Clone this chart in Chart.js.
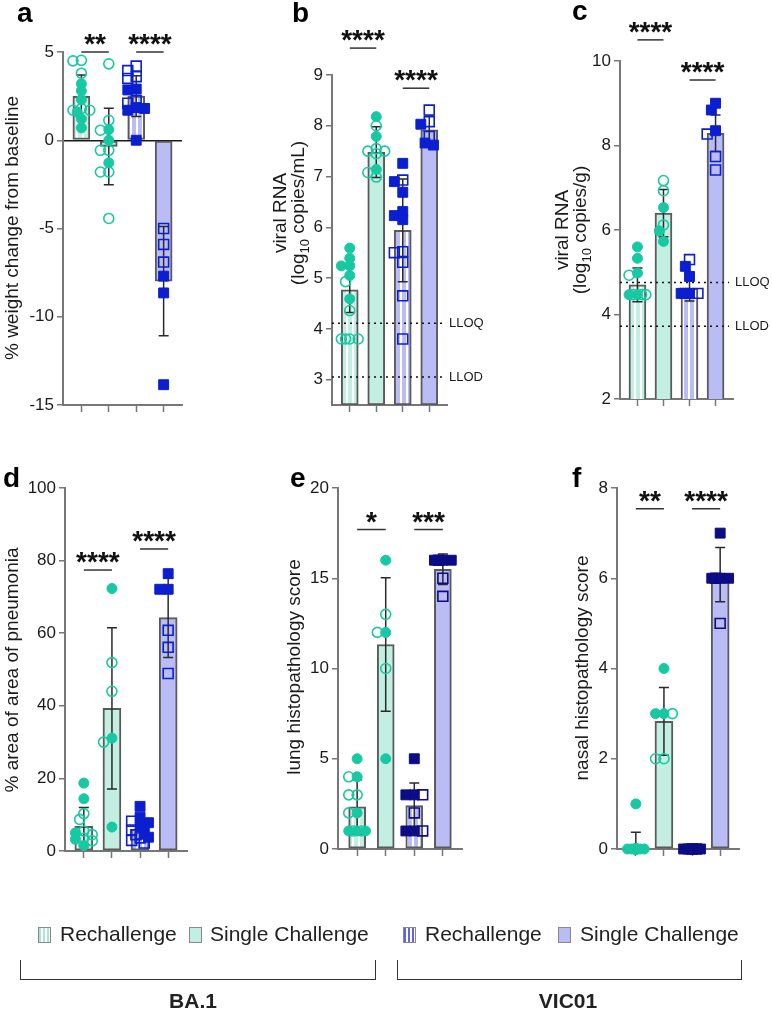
<!DOCTYPE html>
<html>
<head>
<meta charset="utf-8">
<title>BA.1 / VIC01 rechallenge</title>
<script src="https://cdn.jsdelivr.net/npm/chart.js@4.4.1/dist/chart.umd.min.js"></script>
<style>
  body { margin: 0; background: #fff; font-family: 'Liberation Sans', Arial, sans-serif; color: #222; }
  #page { position: relative; width: 772px; height: 1012px; overflow: hidden; }
  #page canvas { position: absolute; left: 0; top: 0; }
  .swatch { position: absolute; top: 927px; width: 13px; height: 16px; border: 1px solid #888; box-sizing: border-box; }
  .mint { background: #c2efe2; }
  .lav { background: #babcf5; }
  .mint.striped { background: repeating-linear-gradient(90deg, #a8e6d4 0 2.5px, #fff 2.5px 4px); }
  .lav.striped { background: repeating-linear-gradient(90deg, #5f63e6 0 2.5px, #fff 2.5px 4px); }
  .key { position: absolute; top: 923px; font-size: 21px; line-height: 22px; white-space: nowrap; }
  .bracket { position: absolute; top: 960px; height: 19px; border: 1.5px solid #333; border-top: none; }
  .variant { position: absolute; top: 990px; font-size: 21px; font-weight: bold; line-height: 22px; transform: translateX(-50%); }
</style>
</head>
<body>
<div id="page">
  <canvas id="panelA" width="772" height="1012"></canvas>
  <canvas id="panelB" width="772" height="1012"></canvas>
  <canvas id="panelC" width="772" height="1012"></canvas>
  <canvas id="panelD" width="772" height="1012"></canvas>
  <canvas id="panelE" width="772" height="1012"></canvas>
  <canvas id="panelF" width="772" height="1012"></canvas>

  <div class="swatch mint striped" style="left:38px"></div><span class="key" style="left:60px">Rechallenge</span>
  <div class="swatch mint" style="left:189px"></div><span class="key" style="left:210px">Single Challenge</span>
  <div class="swatch lav striped" style="left:403px"></div><span class="key" style="left:425px">Rechallenge</span>
  <div class="swatch lav" style="left:558px"></div><span class="key" style="left:580px">Single Challenge</span>

  <div class="bracket" style="left:20px; width:354px"></div>
  <div class="bracket" style="left:397px; width:343px"></div>
  <span class="variant" style="left:193px">BA.1</span>
  <span class="variant" style="left:568px">VIC01</span>
</div>

<script>
// groups, left to right in every panel
const groupNames = ['BA.1 Rechallenge', 'BA.1 Single Challenge', 'VIC01 Rechallenge', 'VIC01 Single Challenge'];

// a - weight change
const weightTicks = [-15, -10, -5, 0, 5];
const weightMeans = [2.49, -0.35, 2.5, -7.98];
const weightSd = [1.2, 2.17, 1.15, 3.1];
const weightFilled = [[3.2, 2.8, 2.3, 1.6, 1.2, 0.7], [0.6, 0, -1.28], [2.9, 2.85, 1.8, 1.85, 1.7, 0], [-7.7, -8.65, -13.85]];
const weightOpen = [[4.53, 4.5, 3.8, 1.8, 1.7, 1.7], [4.33, 1.13, 0.57, -0.57, -0.57, -1.8, -1.8, -4.43], [4.2, 3.95, 3.6, 3.5, 2.1, 2.25], [-5.0, -5.9, -6.9]];
const weightSig = [['**', 1, 2, 5], ['****', 3, 4, 5]];

// b - swab viral RNA (log10 copies/mL)
const swabTicks = [3, 4, 5, 6, 7, 8, 9];
const swabMeans = [4.77, 7.48, 5.94, 7.92];
const swabSd = [0.45, 0.5, 1.01, 0.27];
const swabFilled = [[5.59, 5.39, 5.24, 5.24, 5.05, 4.59], [8.18, 7.79, 7.14], [7.26, 6.9, 6.69, 6.31, 6.23, 6.15], [8.03, 7.62, 7.66]];
const swabOpen = [[4.93, 4.36, 3.8, 3.8, 3.8, 3.8], [8.0, 7.55, 7.5, 7.5, 7.45, 7.08, 6.99], [6.93, 5.52, 5.5, 5.31, 4.65, 3.8], [8.31, 8.08, 7.79]];
const swabSig = [['****', 1, 2, 9.53], ['****', 3, 4, 8.74]];
const swabLimits = [['LLOQ', 4.11], ['LLOD', 3.05]];

// c - tissue viral RNA (log10 copies/g)
const tissueTicks = [2, 4, 6, 8, 10];
const tissueMeans = [4.7, 6.4, 4.62, 8.29];
const tissueSd = [0.4, 0.56, 0.3, 0.43];
const tissueFilled = [[5.6, 5.33, 4.98, 4.47, 4.47], [6.53, 5.98, 5.73], [5.14, 4.9, 4.5, 4.5], [9.0, 8.84, 8.35]];
const tissueOpen = [[4.93, 4.47, 4.47, 4.47], [7.17, 6.93, 6.12], [5.3, 4.5, 4.5], [8.27, 7.74, 7.42]];
const tissueSig = [['****', 1, 2, 10.5], ['****', 3, 4, 9.55]];
const tissueLimits = [['LLOQ', 4.76], ['LLOD', 3.72]];

// d - % area of pneumonia
const pneumoniaTicks = [0, 20, 40, 60, 80, 100];
const pneumoniaMeans = [6.8, 39.3, 6.0, 64.3];
const pneumoniaSd = [5.2, 22.2, 2.7, 11];
const pneumoniaFilled = [[18.7, 14.4, 5.0, 3.2, 1.5], [72.3, 31.1, 6.6], [12.3, 9.3, 7.8, 6.6, 5.0, 3.8], [76.4, 72.1, 72.1]];
const pneumoniaOpen = [[10.3, 8.7, 5.5, 4.5, 3.5, 2.8], [51.9, 44.0, 30.0], [8.2, 5.8, 4.5, 3.6, 2.9, 2.2], [60.8, 56.1, 48.9]];
const pneumoniaSig = [['****', 1, 2, 77.4], ['****', 3, 4, 83.2]];

// e - lung histopathology score
const lungTicks = [0, 5, 10, 15, 20];
const lungMeans = [2.33, 11.33, 2.4, 15.5];
const lungSd = [1.5, 3.7, 1.25, 0.84];
const lungFilled = [[5, 4, 2, 1, 1, 1], [16, 12, 5], [5, 3, 3, 1, 1], [16, 16, 16]];
const lungOpen = [[4, 3, 3, 2, 1, 1], [13, 12, 10], [3, 2, 1], [16, 15, 14]];
const lungSig = [['*', 1, 2, 17.7], ['***', 3, 4, 17.7]];

// f - nasal histopathology score
const nasalTicks = [0, 2, 4, 6, 8];
const nasalMeans = [0.08, 2.83, 0, 6.08];
const nasalSd = [0.29, 0.75, 0, 0.6];
const nasalFilled = [[1, 0, 0, 0, 0, 0], [4, 3, 3], [0, 0, 0, 0], [7, 6, 6, 6]];
const nasalOpen = [[0, 0, 0, 0, 0, 0], [3, 2, 2], [0, 0], [6, 5]];
const nasalSig = [['**', 1, 2, 7.54], ['****', 3, 4, 7.54]];

document.addEventListener('DOMContentLoaded', () => {
    const FONT = "'Liberation Sans', Arial, sans-serif";
    const PAGE_W = 772, PAGE_H = 1012;
    const Y_W = 46, X_H = 12;
    const X_MIN = 0.33, X_MAX = 4.67;
    const TEAL = '#17c9a2';
    const MINT = '#c2efe2';
    const LAV = '#babcf5';

    Chart.defaults.font.family = FONT;
    Chart.defaults.color = '#1a1a1a';

    // 1. Bar fills (rechallenge bars are striped)
    const stripes = (color) => {
        const c = document.createElement('canvas');
        c.width = 6; c.height = 6;
        const g = c.getContext('2d');
        g.fillStyle = color; g.fillRect(0, 0, 6, 6);
        g.fillStyle = '#ffffff'; g.fillRect(4, 0, 2, 6);
        return g.createPattern(c, 'repeat');
    };
    const barFills = [stripes(MINT), MINT, stripes(LAV), LAV];

    // 2. Spread points of a group sideways so they don't sit on each other
    const swarm = (filled, open, pxX, pxY, size) => {
        const items = filled.map(v => ({ v, open: false })).concat(open.map(v => ({ v, open: true })));
        const placed = [];
        const slots = [0, -1, 1, -2, 2];
        [...items].sort((p, q) => q.v - p.v).forEach(item => {
            const yp = item.v * pxY;
            let best = 0, bestGap = -1;
            for (const s of slots) {
                const xp = s * size * 0.42;
                const gap = placed.reduce((m, q) => Math.min(m, Math.hypot(q.xp - xp, q.yp - yp)), Infinity);
                if (gap >= size * 0.7) { best = xp; break; }
                if (gap > bestGap) { bestGap = gap; best = xp; }
            }
            placed.push({ xp: best, yp });
            item.dx = best / pxX;
        });
        return items;
    };

    // 3. Rotated axis title, "_10_" marks a subscript
    const drawTitle = (ctx, text, cx, cy, size) => {
        const parts = text.split('_');
        ctx.save();
        ctx.translate(cx, cy);
        ctx.rotate(-Math.PI / 2);
        ctx.textBaseline = 'middle';
        ctx.textAlign = 'left';
        ctx.fillStyle = '#1a1a1a';
        const fonts = parts.map((_, i) => `${i % 2 ? Math.round(size * 0.68) : size}px ${FONT}`);
        const widths = parts.map((t, i) => { ctx.font = fonts[i]; return ctx.measureText(t).width; });
        let pos = -widths.reduce((s, w) => s + w, 0) / 2;
        parts.forEach((t, i) => {
            ctx.font = fonts[i];
            ctx.fillText(t, pos, i % 2 ? size * 0.32 : 0);
            pos += widths[i];
        });
        ctx.restore();
    };

    // 4. Error bars, limit lines, significance bars, titles
    const makeExtras = (p) => ({
        id: 'panelExtras',
        afterDatasetDraw(chart, args) {
            if (args.index !== 0) return;
            const { ctx, scales: { x, y } } = chart;
            ctx.save();
            ctx.strokeStyle = '#2a2a2a';
            ctx.lineWidth = 1.5;
            p.means.forEach((m, i) => {
                const sd = p.sd[i];
                if (!sd) return;
                const px = x.getPixelForValue(i + 1);
                const top = y.getPixelForValue(m + sd);
                const clipped = m - sd < y.min;
                const bot = y.getPixelForValue(clipped ? y.min : m - sd);
                ctx.beginPath();
                ctx.moveTo(px, top); ctx.lineTo(px, bot);
                ctx.moveTo(px - 5, top); ctx.lineTo(px + 5, top);
                if (!clipped) { ctx.moveTo(px - 5, bot); ctx.lineTo(px + 5, bot); }
                ctx.stroke();
            });
            (p.limits || []).forEach(([label, value]) => {
                const yy = y.getPixelForValue(value);
                ctx.setLineDash([2, 4]);
                ctx.strokeStyle = '#111';
                ctx.beginPath();
                ctx.moveTo(x.left, yy); ctx.lineTo(x.right - 4, yy);
                ctx.stroke();
                ctx.setLineDash([]);
                ctx.font = `13px ${FONT}`;
                ctx.fillStyle = '#1a1a1a';
                ctx.textAlign = 'left';
                ctx.textBaseline = 'middle';
                ctx.fillText(label, x.right + 2, yy);
            });
            ctx.restore();
        },
        afterDraw(chart) {
            const { ctx, scales: { x, y } } = chart;
            ctx.save();
            p.sig.forEach(([text, g1, g2, level]) => {
                const x1 = x.getPixelForValue(g1), x2 = x.getPixelForValue(g2);
                const yy = y.getPixelForValue(level);
                ctx.strokeStyle = '#333';
                ctx.lineWidth = 1.5;
                ctx.beginPath();
                ctx.moveTo(x1, yy); ctx.lineTo(x2, yy);
                ctx.stroke();
                ctx.font = `bold 28px ${FONT}`;
                ctx.textAlign = 'center';
                ctx.textBaseline = 'alphabetic';
                ctx.fillStyle = '#111';
                ctx.fillText(text, (x1 + x2) / 2, yy + 1);
            });
            p.title.forEach((line, k) => drawTitle(ctx, line, p.titleX[k], p.titleY, 19));
            ctx.font = `bold 28px ${FONT}`;
            ctx.textAlign = 'left';
            ctx.textBaseline = 'alphabetic';
            ctx.fillStyle = '#000';
            ctx.fillText(p.letter, p.letterAt[0], p.letterAt[1]);
            ctx.restore();
        }
    });

    // 5. Build one panel
    const buildPanel = (p) => {
        const a = p.area;
        const yMin = p.yMin !== undefined ? p.yMin : p.ticks[0];
        const yMax = p.ticks[p.ticks.length - 1];
        const pxY = (a.b - a.t) / (yMax - yMin);
        const pxX = (a.r - a.l) / (X_MAX - X_MIN);

        const tealFilled = [], tealOpen = [], blueFilled = [], blueOpen = [];
        p.filled.forEach((_, g) => {
            swarm(p.filled[g], p.open[g], pxX, pxY, 10).forEach(item => {
                const pt = { x: g + 1 + item.dx, y: item.v };
                if (g < 2) (item.open ? tealOpen : tealFilled).push(pt);
                else (item.open ? blueOpen : blueFilled).push(pt);
            });
        });

        const pointSet = (data, style, color, open, order) => ({
            type: 'scatter',
            data,
            pointStyle: style,
            pointRadius: style === 'rect' ? 7 : 5,
            pointHoverRadius: style === 'rect' ? 7 : 5,
            pointBackgroundColor: open ? 'rgba(255,255,255,0)' : color,
            pointBorderColor: color,
            pointBorderWidth: open ? 1.6 : 1,
            clip: false,
            order
        });

        const axisLine = { display: true, color: '#777', width: 2 };

        new Chart(document.getElementById(p.canvas), {
            type: 'bar',
            data: {
                datasets: [
                    {
                        type: 'bar',
                        label: 'mean',
                        data: p.means.map((m, i) => ({ x: i + 1, y: m })),
                        backgroundColor: barFills,
                        borderColor: '#5a5a5a',
                        borderWidth: 2,
                        borderSkipped: false,
                        barThickness: p.barWidth,
                        base: p.yMin !== undefined ? p.yMin : 0,
                        order: 5
                    },
                    pointSet(tealOpen, 'circle', TEAL, true, 4),
                    pointSet(tealFilled, 'circle', TEAL, false, 3),
                    pointSet(blueOpen, 'rect', p.blue, true, 2),
                    pointSet(blueFilled, 'rect', p.blue, false, 1)
                ]
            },
            options: {
                responsive: false,
                animation: false,
                events: [],
                layout: {
                    padding: { left: a.l - Y_W, right: PAGE_W - a.r, top: a.t, bottom: PAGE_H - a.b - X_H }
                },
                plugins: { legend: { display: false }, tooltip: { enabled: false } },
                scales: {
                    x: {
                        type: 'linear',
                        min: X_MIN,
                        max: X_MAX,
                        offset: false,
                        afterBuildTicks: s => { s.ticks = [1, 2, 3, 4].map(v => ({ value: v })); },
                        afterFit: s => { s.height = X_H; },
                        ticks: { display: false },
                        grid: { offset: false, drawOnChartArea: false, drawTicks: true, tickLength: 7, tickColor: '#777', tickWidth: 1.5 },
                        border: axisLine
                    },
                    y: {
                        type: 'linear',
                        min: yMin,
                        max: yMax,
                        afterBuildTicks: s => { s.ticks = p.ticks.map(v => ({ value: v })); },
                        afterFit: s => { s.width = Y_W; },
                        ticks: { font: { size: 17 }, color: '#1a1a1a', padding: 3 },
                        grid: {
                            drawOnChartArea: !!p.zeroLine,
                            color: c => (c.tick && c.tick.value === 0 ? '#1a1a1a' : 'rgba(0,0,0,0)'),
                            lineWidth: 1.5,
                            drawTicks: true,
                            tickLength: 6,
                            tickColor: '#777',
                            tickWidth: 1.5
                        },
                        border: axisLine
                    }
                }
            },
            plugins: [makeExtras(p)]
        });
    };

    // 6. Panels
    const panels = [
        { canvas: 'panelA', letter: 'a', letterAt: [17, 22], area: { l: 63, r: 182, t: 52, b: 405 }, barWidth: 17,
          ticks: weightTicks, means: weightMeans, sd: weightSd, filled: weightFilled, open: weightOpen, sig: weightSig,
          zeroLine: true, title: ['% weight change from baseline'], titleX: [13], titleY: 228, blue: '#0b1fd0' },
        { canvas: 'panelB', letter: 'b', letterAt: [292, 22], area: { l: 332, r: 447, t: 75, b: 405 }, barWidth: 17, yMin: 2.5,
          ticks: swabTicks, means: swabMeans, sd: swabSd, filled: swabFilled, open: swabOpen, sig: swabSig, limits: swabLimits,
          title: ['viral RNA', '(log_10_ copies/mL)'], titleX: [281, 299], titleY: 213, blue: '#0b1fd0' },
        { canvas: 'panelC', letter: 'c', letterAt: [572, 20], area: { l: 620, r: 733, t: 61, b: 399 }, barWidth: 17,
          ticks: tissueTicks, means: tissueMeans, sd: tissueSd, filled: tissueFilled, open: tissueOpen, sig: tissueSig, limits: tissueLimits,
          title: ['viral RNA', '(log_10_ copies/g)'], titleX: [563, 581], titleY: 230, blue: '#0b1fd0' },
        { canvas: 'panelD', letter: 'd', letterAt: [3, 487], area: { l: 65, r: 187, t: 488, b: 851 }, barWidth: 18,
          ticks: pneumoniaTicks, means: pneumoniaMeans, sd: pneumoniaSd, filled: pneumoniaFilled, open: pneumoniaOpen, sig: pneumoniaSig,
          title: ['% area of area of pneumonia'], titleX: [13], titleY: 670, blue: '#0b1fd0' },
        { canvas: 'panelE', letter: 'e', letterAt: [290, 487], area: { l: 338, r: 462, t: 488, b: 849 }, barWidth: 17,
          ticks: lungTicks, means: lungMeans, sd: lungSd, filled: lungFilled, open: lungOpen, sig: lungSig,
          title: ['lung histopathology score'], titleX: [295], titleY: 667, blue: '#0c0c84' },
        { canvas: 'panelF', letter: 'f', letterAt: [572, 487], area: { l: 617, r: 739, t: 488, b: 849 }, barWidth: 18,
          ticks: nasalTicks, means: nasalMeans, sd: nasalSd, filled: nasalFilled, open: nasalOpen, sig: nasalSig,
          title: ['nasal histopathology score'], titleX: [583], titleY: 668, blue: '#0c0c84' }
    ];

    panels.forEach(buildPanel);
});
</script>
</body>
</html>
